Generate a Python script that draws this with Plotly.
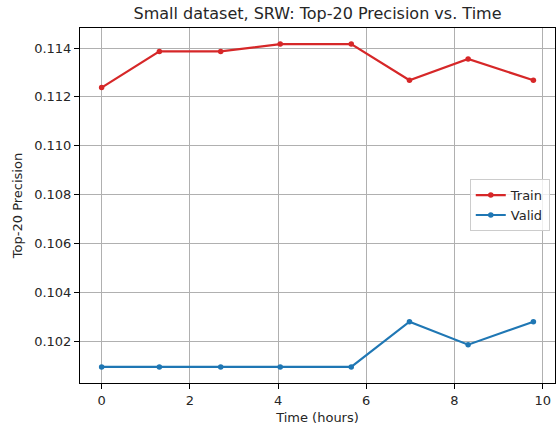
import plotly.graph_objects as go

# Elapsed training time (hours) at each evaluation checkpoint
time_hours = [0.0, 1.31, 2.70, 4.05, 5.66, 6.98, 8.31, 9.79]

# Top-20 precision on the training and validation splits
train_precision = [0.11238, 0.11386, 0.11386, 0.11416, 0.11416, 0.11268, 0.11355, 0.11268]
valid_precision = [0.10094, 0.10094, 0.10094, 0.10094, 0.10094, 0.10279, 0.10185, 0.10279]

x_ticks = [0, 2, 4, 6, 8, 10]
y_ticks = [0.102, 0.104, 0.106, 0.108, 0.110, 0.112, 0.114]
y_tick_labels = ["0.102", "0.104", "0.106", "0.108", "0.110", "0.112", "0.114"]

FONT = "DejaVu Sans, Liberation Sans, sans-serif"

fig = go.Figure()
fig.add_trace(go.Scatter(
    x=time_hours, y=train_precision, name="Train",
    mode="lines+markers",
    line=dict(color="#d62728", width=2.2),
    marker=dict(color="#d62728", size=5.5),
))
fig.add_trace(go.Scatter(
    x=time_hours, y=valid_precision, name="Valid",
    mode="lines+markers",
    line=dict(color="#1f77b4", width=2.2),
    marker=dict(color="#1f77b4", size=5.5),
))

axis_common = dict(
    showline=True, linecolor="black", linewidth=1, mirror=True,
    ticks="outside", ticklen=5, tickwidth=1, tickcolor="black",
    showgrid=True, gridcolor="#b0b0b0", gridwidth=1,
    zeroline=False,
    tickfont=dict(family=FONT, size=13, color="#262626"),
)

fig.update_layout(
    width=557, height=427,
    margin=dict(l=80, r=2, t=28, b=44),
    paper_bgcolor="white", plot_bgcolor="white",
    font=dict(family=FONT, size=13, color="#262626"),
    title=dict(
        text="Small dataset, SRW: Top-20 Precision vs. Time",
        x=0.5, xref="paper", y=1 - 13 / 427, yref="container",
        xanchor="center", yanchor="middle",
        font=dict(family=FONT, size=16, color="#262626"),
    ),
    xaxis=dict(
        range=[-0.49, 10.28], tickvals=x_ticks,
        title=dict(text="Time (hours)", standoff=6,
                   font=dict(family=FONT, size=13, color="#262626")),
        **axis_common,
    ),
    yaxis=dict(
        range=[0.10028, 0.11482], tickvals=y_ticks, ticktext=y_tick_labels,
        title=dict(text="Top-20 Precision", standoff=8,
                   font=dict(family=FONT, size=13, color="#262626")),
        **axis_common,
    ),
    legend=dict(
        x=0.989, y=0.501, xanchor="right", yanchor="middle",
        bgcolor="rgba(255,255,255,0.8)", bordercolor="#cccccc", borderwidth=1,
        font=dict(family=FONT, size=13, color="#262626"),
        tracegroupgap=0,
    ),
    showlegend=True,
)

fig.write_html("out.html")
